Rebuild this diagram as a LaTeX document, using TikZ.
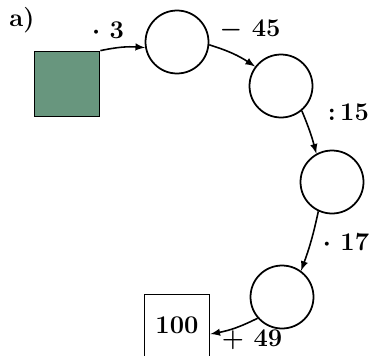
\documentclass[tikz,border=0pt]{standalone}
\definecolor{sqgreen}{RGB}{104,150,126}
\begin{document}
\begin{tikzpicture}[>=latex, x=0.02cm, y=-0.02cm,
    font=\bfseries\boldmath\fontsize{14.5}{17}\selectfont]
  \tikzstyle{crc}=[draw, circle, line width=1pt, minimum size=1.26cm]
  \tikzstyle{sq}=[draw, line width=1pt, minimum size=1.3cm]
  \tikzstyle{arr}=[->, line width=0.9pt]
  \useasboundingbox (0,0) rectangle (371,355);

  % --- start, circles, end ---
  \node (lbl) at (22,20) {a)};
  \node[sq, fill=sqgreen] (start) at (67,84) {};
  \node[crc] (c1) at (177,42) {};
  \node[crc] (c2) at (281,86) {};
  \node[crc] (c3) at (332,182) {};
  \node[crc] (c4) at (282,297) {};
  \node[sq] (res) at (177,327) {};
  \node (num) at (177,325) {100};

  % --- arrows ---
  \draw[arr] (start.north east) to[bend left=8] (c1.190);
  \draw[arr] (c1.-5) to[bend left=8] (c2.143);
  \draw[arr] (c2.-50) to[bend left=4] (c3.119);
  \draw[arr] (c3.-115) to[bend left=4] (c4.54);
  \draw[arr] (c4.-139) to[bend left=8] ([yshift=-4]res.east);

  % --- operations ---
  \node (op1) at (108,30) {$\cdot$ 3};
  \node (op2) at (250,30) {$-$ 45};
  \node[anchor=east, inner sep=1pt] (op3) at (371,112) {:\,15};
  \node (op4) at (346,242) {$\cdot$ 17};
  \node (op5) at (252,340) {$+$ 49};
\end{tikzpicture}
\end{document}
